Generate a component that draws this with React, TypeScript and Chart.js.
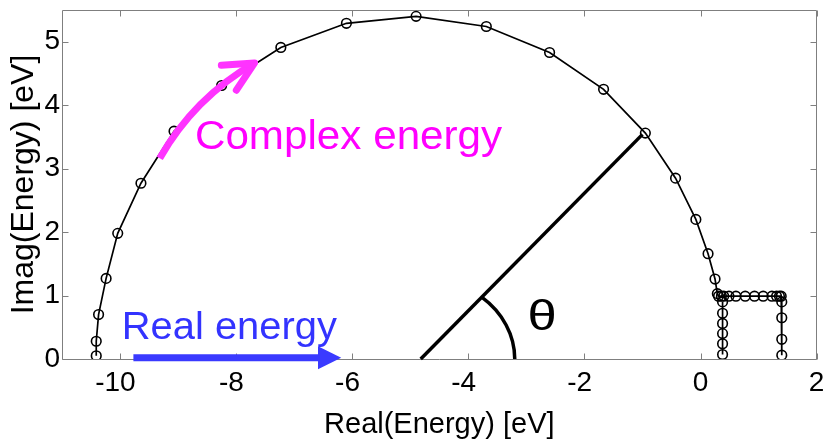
import React, { useEffect, useRef } from 'react';
import { Chart, registerables } from 'chart.js';

Chart.register(...registerables);

// ---- data ----
const curveX = [
  -10.41, -10.41, -10.37, -10.24, -10.04, -9.64, -9.07, -8.25, -7.23, -6.1, -4.9,
  -3.69, -2.6, -1.67, -0.95, -0.43, -0.08, 0.13, 0.25, 0.29,
  0.31, 0.36, 0.4, 0.49, 0.61, 0.77, 0.93, 1.08, 1.23, 1.31, 1.36, 1.39,
  1.4, 1.4, 1.4, 1.4,
];
const curveY = [
  0.05, 0.28, 0.7, 1.27, 1.98, 2.77, 3.59, 4.31, 4.91, 5.29, 5.4,
  5.24, 4.83, 4.25, 3.56, 2.85, 2.2, 1.66, 1.26, 1.03,
  0.99, 0.99, 0.99, 0.99, 0.99, 0.99, 0.99, 0.99, 0.99, 0.99, 0.99, 0.99,
  0.9, 0.65, 0.31, 0.06,
];
const stubX = [0.38, 0.38, 0.38, 0.38, 0.38, 0.38];
const stubY = [0.9, 0.72, 0.56, 0.4, 0.24, 0.07];

const xTickValues = [-10, -8, -6, -4, -2, 0, 2];
const yTickValues = [0, 1, 2, 3, 4, 5];
const xAxisTitle = 'Real(Energy) [eV]';
const yAxisTitle = 'Imag(Energy) [eV]';
const realLabel = 'Real energy';
const complexLabel = 'Complex energy';
const angleLabel = 'θ';

// annotation anchors in data units
const thetaLine = [-4.82, 0, -1.0, 3.54];
const thetaArcRadii = [1.62, 1.28];
const thetaLabelPos = [-2.98, 0.457];
const realArrow = [-9.77, -6.19, 0.02, -6.59];
const realLabelPos = [-9.97, 0.31];
const complexArrow = [-9.316, 3.165, -8.722, 4.118, -7.682, 4.666];
const complexBarbs = [-8.255, 4.63, -7.997, 4.236];
const complexLabelPos = [-8.71, 3.31];

const FONT = '"Liberation Sans", Arial, Helvetica, sans-serif';
const AXIS_GRAY = '#7f7f7f';
const BLUE = '#3a3aff';
const MAGENTA = '#ff33ff';

function stretchedText(ctx: CanvasRenderingContext2D, text: string, x: number, y: number, sx: number) {
  ctx.save();
  ctx.translate(x, y);
  ctx.scale(sx, 1);
  ctx.fillText(text, 0, 0);
  ctx.restore();
}

const decorPlugin = {
  id: 'decor',
  beforeDatasetsDraw(chart: any) {
    const { ctx, chartArea: a, scales } = chart;
    const L = Math.round(a.left) + 0.5;
    const R = Math.round(a.right) - 0.5;
    const T = Math.round(a.top) + 0.5;
    const B = Math.round(a.bottom) + 0.5;
    ctx.save();
    ctx.strokeStyle = AXIS_GRAY;
    ctx.lineWidth = 1;
    ctx.beginPath();
    ctx.rect(L, T, R - L, B - T);
    const tl = 6;
    for (const t of scales.x.ticks) {
      const p = Math.round(scales.x.getPixelForValue(t.value)) + 0.5;
      ctx.moveTo(p, B);
      ctx.lineTo(p, B - tl);
      ctx.moveTo(p, T);
      ctx.lineTo(p, T + tl);
    }
    for (const t of scales.y.ticks) {
      const p = Math.round(scales.y.getPixelForValue(t.value)) + 0.5;
      ctx.moveTo(L, p);
      ctx.lineTo(L + tl, p);
      ctx.moveTo(R, p);
      ctx.lineTo(R - tl, p);
    }
    ctx.stroke();
    ctx.restore();
  },
  afterDatasetsDraw(chart: any) {
    const { ctx, scales } = chart;
    const px = (v: number) => scales.x.getPixelForValue(v);
    const py = (v: number) => scales.y.getPixelForValue(v);
    ctx.save();

    // theta line + arc
    const cx = px(thetaLine[0]);
    const cy = py(thetaLine[1]);
    const ex = px(thetaLine[2]);
    const ey = py(thetaLine[3]);
    ctx.strokeStyle = '#000';
    ctx.lineWidth = 3.5;
    ctx.lineCap = 'butt';
    ctx.beginPath();
    ctx.moveTo(cx, cy);
    ctx.lineTo(ex, ey);
    ctx.stroke();
    const rx = px(thetaLine[0] + thetaArcRadii[0]) - cx;
    const ry = cy - py(thetaLine[1] + thetaArcRadii[1]);
    const ang = Math.atan2(cy - ey, ex - cx);
    const t = Math.atan((Math.tan(ang) * rx) / ry);
    ctx.beginPath();
    ctx.ellipse(cx, cy, rx, ry, 0, -t, 0);
    ctx.stroke();
    ctx.fillStyle = '#000';
    ctx.font = `42px ${FONT}`;
    ctx.textBaseline = 'alphabetic';
    ctx.textAlign = 'left';
    stretchedText(ctx, angleLabel, px(thetaLabelPos[0]), py(thetaLabelPos[1]), 1.25);

    // blue arrow
    const by = py(realArrow[2]);
    ctx.strokeStyle = BLUE;
    ctx.fillStyle = BLUE;
    ctx.lineWidth = 7;
    ctx.beginPath();
    ctx.moveTo(px(realArrow[0]), by);
    ctx.lineTo(px(realArrow[3]) + 1, by);
    ctx.stroke();
    ctx.beginPath();
    ctx.moveTo(px(realArrow[3]), by - 11.5);
    ctx.lineTo(px(realArrow[1]), by);
    ctx.lineTo(px(realArrow[3]), by + 11.5);
    ctx.closePath();
    ctx.fill();
    ctx.font = `38px ${FONT}`;
    ctx.fillStyle = '#3333ff';
    stretchedText(ctx, realLabel, px(realLabelPos[0]), py(realLabelPos[1]), 1.05);

    // magenta arrow
    ctx.strokeStyle = MAGENTA;
    ctx.lineWidth = 7;
    ctx.lineCap = 'butt';
    ctx.beginPath();
    ctx.moveTo(px(complexArrow[0]), py(complexArrow[1]));
    ctx.quadraticCurveTo(
      px(complexArrow[2]), py(complexArrow[3]),
      px(complexArrow[4]), py(complexArrow[5])
    );
    ctx.stroke();
    ctx.lineCap = 'round';
    ctx.lineJoin = 'round';
    ctx.beginPath();
    ctx.moveTo(px(complexBarbs[0]), py(complexBarbs[1]));
    ctx.lineTo(px(complexArrow[4]), py(complexArrow[5]));
    ctx.lineTo(px(complexBarbs[2]), py(complexBarbs[3]));
    ctx.stroke();
    ctx.font = `40px ${FONT}`;
    ctx.fillStyle = '#ff00ff';
    stretchedText(ctx, complexLabel, px(complexLabelPos[0]), py(complexLabelPos[1]), 1.055);

    ctx.restore();
  },
};

function zeroPadding(s: any) {
  s.paddingLeft = 0;
  s.paddingRight = 0;
  s.paddingTop = 0;
  s.paddingBottom = 0;
}

export default function App() {
  const ref = useRef<HTMLCanvasElement | null>(null);
  useEffect(() => {
    document.body.style.margin = '0';
    const canvas = ref.current!;
    const pointStyle = {
      showLine: true,
      borderColor: '#000',
      borderWidth: 1.7,
      pointRadius: 4.8,
      pointBorderWidth: 1.6,
      pointBorderColor: '#000',
      pointBackgroundColor: 'rgba(0,0,0,0)',
    };
    const chart = new Chart(canvas, {
      type: 'scatter',
      data: {
        datasets: [
          { data: curveX.map((x, i) => ({ x, y: curveY[i] })), ...pointStyle },
          { data: stubX.map((x, i) => ({ x, y: stubY[i] })), ...pointStyle },
        ],
      },
      options: {
        responsive: false,
        animation: false,
        devicePixelRatio: 1,
        layout: { padding: { top: 10, right: 6, left: 0, bottom: 0 } },
        plugins: { legend: { display: false }, tooltip: { enabled: false } },
        scales: {
          x: {
            type: 'linear',
            min: -11,
            max: 2,
            afterBuildTicks: (s: any) => {
              s.ticks = xTickValues.map((v) => ({ value: v }));
            },
            afterFit: (s: any) => {
              s.height = 84;
              zeroPadding(s);
            },
            grid: { display: false, drawTicks: false },
            border: { display: false },
            ticks: {
              color: '#000',
              font: { family: FONT, size: 28 },
              padding: 7,
              maxRotation: 0,
              autoSkip: false,
              callback: (v: any) => (Number(v) < 0 ? `${v}\u2004` : `${v}`),
            },
            title: {
              display: true,
              text: xAxisTitle,
              color: '#000',
              font: { family: FONT, size: 29 },
              padding: { top: 0, bottom: 1 },
            },
          },
          y: {
            type: 'linear',
            min: 0,
            max: 5.5,
            afterBuildTicks: (s: any) => {
              s.ticks = yTickValues.map((v) => ({ value: v }));
            },
            afterFit: (s: any) => {
              s.width = 62;
              zeroPadding(s);
            },
            grid: { display: false, drawTicks: false },
            border: { display: false },
            ticks: {
              color: '#000',
              font: { family: FONT, size: 28 },
              padding: 2,
              autoSkip: false,
            },
            title: {
              display: true,
              text: yAxisTitle,
              color: '#000',
              font: { family: FONT, size: 32 },
              padding: { top: 5, bottom: 0 },
            },
          },
        },
      },
      plugins: [decorPlugin],
    } as any);
    return () => chart.destroy();
  }, []);
  return (
    <div style={{ width: 823, height: 443 }}>
      <canvas ref={ref} width={823} height={443} style={{ display: 'block' }} />
    </div>
  );
}
